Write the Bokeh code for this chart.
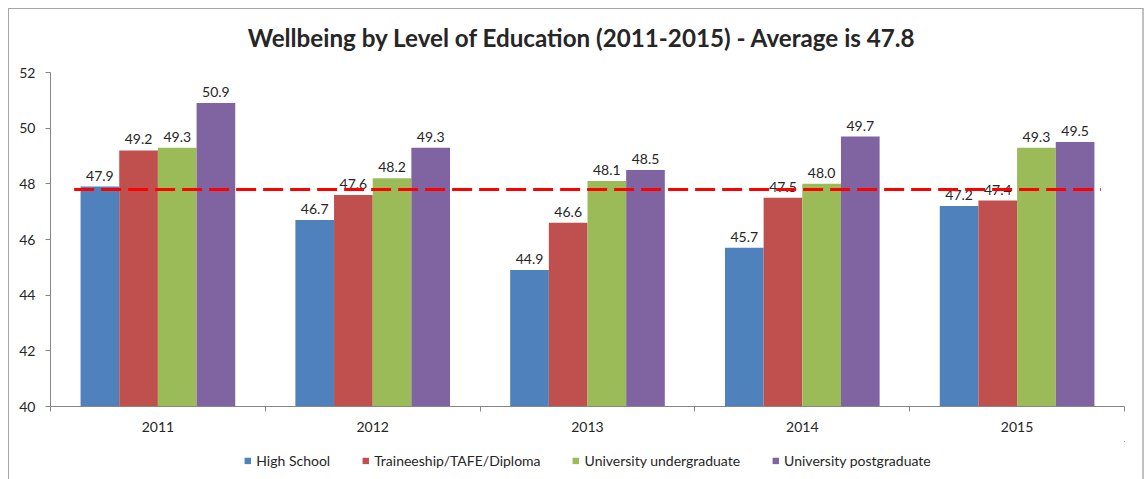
from bokeh.plotting import figure
from bokeh.layouts import column
from bokeh.models import (ColumnDataSource, Range1d, FixedTicker, Legend, LegendItem)
from bokeh.core.properties import value
from bokeh.embed import file_html
from bokeh.resources import INLINE

# ---- data ----
years = ["2011", "2012", "2013", "2014", "2015"]
series = ["High School", "Traineeship/TAFE/Diploma", "University undergraduate", "University postgraduate"]
high_school = [47.9, 46.7, 44.9, 45.7, 47.2]
traineeship = [49.2, 47.6, 46.6, 47.5, 47.4]
undergrad = [49.3, 48.2, 48.1, 48.0, 49.3]
postgrad = [50.9, 49.3, 48.5, 49.7, 49.5]
average = 47.8
y_ticks = [40, 42, 44, 46, 48, 50, 52]
title_text = "Wellbeing by Level of Education (2011-2015) - Average is 47.8"

colors = ["#4F81BD", "#C0504D", "#9BBB59", "#8064A2"]
FONT = "Lato"
TXT = "#262626"
W = 1133


def strip(h):
    f = figure(width=W, height=h, output_backend="svg", toolbar_location=None,
               x_axis_type=None, y_axis_type=None, min_border=0,
               x_range=Range1d(0, 1), y_range=Range1d(0, 1))
    f.outline_line_color = None
    f.xgrid.grid_line_color = None
    f.ygrid.grid_line_color = None
    return f


# title strip
tf = strip(53)
tf.text(x=[0.495], y=[0.47], text=[title_text], text_align="center", text_baseline="middle",
        text_font=value(FONT), text_font_size="24.2px", text_font_style="bold", text_color=TXT)

# main chart
p = figure(width=W, height=379, output_backend="svg", toolbar_location=None,
           x_range=Range1d(0.5, len(years) + 0.5), y_range=Range1d(y_ticks[0], y_ticks[-1]),
           min_border_left=41, min_border_right=18, min_border_top=10, min_border_bottom=35)
p.title.text = ""
p.title.standoff = 0
p.outline_line_color = None
p.xgrid.grid_line_color = None
p.ygrid.grid_line_color = None
p.background_fill_color = "white"
p.border_fill_color = "white"

bw = 0.18
xs = list(range(1, len(years) + 1))
vals = [high_school, traineeship, undergrad, postgrad]
for k, (name, v, c) in enumerate(zip(series, vals, colors)):
    off = (k - 1.5) * bw
    src = ColumnDataSource(dict(x=[xi + off for xi in xs], top=v,
                                lbl=["%.1f" % t for t in v]))
    p.vbar(x="x", top="top", bottom=y_ticks[0], width=bw, source=src,
           fill_color=c, line_color=None)
    p.text(x="x", y="top", text="lbl", source=src, text_align="center",
           text_baseline="alphabetic", y_offset=-11, text_font=value(FONT),
           text_font_size="14px", text_color=TXT)

p.line(x=[xs[0] - 0.39, xs[-1] + 0.39], y=[average, average], line_color="#FF0000",
       line_width=3, line_dash="20 7")

# y axis
p.yaxis.ticker = FixedTicker(ticks=y_ticks)
p.yaxis.minor_tick_line_color = None
p.yaxis.major_tick_in = 0
p.yaxis.major_tick_out = 5
p.yaxis.axis_line_color = "#868686"
p.yaxis.major_tick_line_color = "#868686"
p.yaxis.major_label_text_font = FONT
p.yaxis.major_label_text_font_size = "14px"
p.yaxis.major_label_text_color = TXT
p.yaxis.major_label_standoff = 10

# x axis
p.xaxis.ticker = FixedTicker(ticks=xs, minor_ticks=[x - 0.5 for x in xs] + [xs[-1] + 0.5])
p.xaxis.major_label_overrides = {x: y for x, y in zip(xs, years)}
p.xaxis.major_tick_in = 0
p.xaxis.major_tick_out = 0
p.xaxis.minor_tick_in = 0
p.xaxis.minor_tick_out = 5
p.xaxis.axis_line_color = "#868686"
p.xaxis.minor_tick_line_color = "#868686"
p.xaxis.major_label_text_font = FONT
p.xaxis.major_label_text_font_size = "14px"
p.xaxis.major_label_text_color = TXT
p.xaxis.major_label_standoff = 10

# legend strip (same bars, placed far outside its visible range; only the legend shows)
lf = strip(38)
lf.x_range = Range1d(-3, -2)
items = []
for name, v, c in zip(series, vals, colors):
    r = lf.vbar(x=xs, top=v, bottom=y_ticks[0], width=bw, fill_color=c, line_color=None)
    items.append(LegendItem(label=name, renderers=[r]))
legend = Legend(items=items, orientation="horizontal", location="center",
                glyph_width=8, glyph_height=8, label_standoff=5, spacing=31,
                label_text_font=FONT, label_text_font_size="14px", label_text_color=TXT,
                border_line_color=None, background_fill_alpha=0, padding=0, margin=0)
lf.add_layout(legend)

layout = column(tf, p, lf, spacing=0, margin=(8, 0, 0, 8),
                styles={"border-left": "1px solid #a6a6a6", "border-top": "1px solid #a6a6a6",
                        "border-right": "2px solid #c0c0c0"})

open("out.html", "w").write(file_html(layout, INLINE))
